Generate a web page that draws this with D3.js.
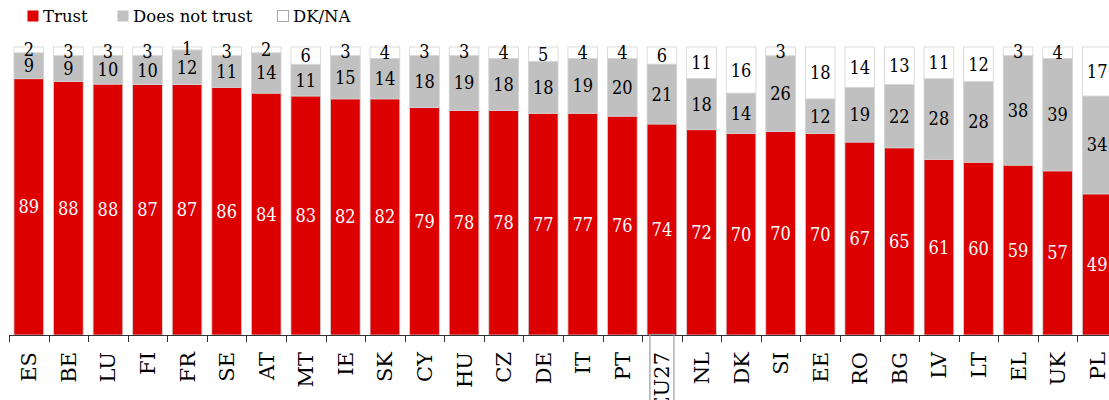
<!DOCTYPE html>
<html>
<head>
<meta charset="utf-8">
<script src="https://cdn.jsdelivr.net/npm/d3@7"></script>
<style>
  html, body { margin: 0; padding: 0; background: #fff; }
  svg { display: block; }
</style>
</head>
<body>
<svg id="chart" width="1109" height="400"></svg>
<script>
const categories = ["ES","BE","LU","FI","FR","SE","AT","MT","IE","SK","CY","HU","CZ","DE","IT","PT","EU27","NL","DK","SI","EE","RO","BG","LV","LT","EL","UK","PL"];
const trust    = [89,88,88,87,87,86,84,83,82,82,79,78,78,77,77,76,74,72,70,70,70,67,65,61,60,59,57,49];
const notTrust = [ 9, 9,10,10,12,11,14,11,15,14,18,19,18,18,19,20,21,18,14,26,12,19,22,28,28,38,39,34];
const dkna     = [ 2, 3, 3, 3, 1, 3, 2, 6, 3, 4, 3, 3, 4, 5, 4, 4, 6,11,16, 3,18,14,13,11,12, 3, 4,17];
const seriesNames = ["Trust","Does not trust","DK/NA"];
const highlight = "EU27";

const colors = ["#dd0000", "#c0c0c0", "#ffffff"];
const labelColors = ["#ffffff", "#000000", "#000000"];
const serif = "'DejaVu Serif', serif";

const svg = d3.select("#chart");
const x0 = 9, step = 39.57;
const yBottom = 335, yTop = 47;

const rows = categories.map((c, i) => ({cat: c, Trust: trust[i], "Does not trust": notTrust[i], "DK/NA": dkna[i]}));
const stack = d3.stack().keys(seriesNames).offset(d3.stackOffsetExpand)(rows);

const x = d3.scaleBand().domain(categories)
  .range([x0, x0 + step * categories.length])
  .paddingInner(0.25).paddingOuter(0.125);
const y = d3.scaleLinear().domain([0, 1]).range([yBottom, yTop]);

// bars
const g = svg.append("g");
stack.forEach((s, si) => {
  g.append("g").selectAll("rect").data(s).join("rect")
    .attr("x", d => x(d.data.cat))
    .attr("width", x.bandwidth())
    .attr("y", d => y(d[1]))
    .attr("height", d => y(d[0]) - y(d[1]))
    .attr("fill", colors[si])
    .attr("stroke", "#d3d3d3")
    .attr("stroke-width", 0.8);
});

// value labels
stack.forEach((s, si) => {
  g.append("g").selectAll("text").data(s).join("text")
    .attr("x", d => x(d.data.cat) + x.bandwidth() / 2)
    .attr("y", d => (y(d[0]) + y(d[1])) / 2)
    .attr("dy", "0.36em")
    .attr("text-anchor", "middle")
    .attr("font-family", serif)
    .attr("font-stretch", "condensed")
    .attr("font-size", 18)
    .attr("fill", labelColors[si])
    .text(d => d.data[s.key]);
});

// axis
const axis = svg.append("g");
axis.append("line")
  .attr("x1", x0).attr("x2", x0 + step * categories.length)
  .attr("y1", yBottom + 0.5).attr("y2", yBottom + 0.5)
  .attr("stroke", "#333").attr("stroke-width", 1);
const gap = (x.step() - x.bandwidth());
axis.selectAll("line.tick").data(categories).join("line")
  .attr("class", "tick")
  .attr("x1", d => Math.round(x(d) - gap / 2) + 0.5)
  .attr("x2", d => Math.round(x(d) - gap / 2) + 0.5)
  .attr("y1", yBottom).attr("y2", yBottom + 7)
  .attr("stroke", "#333").attr("stroke-width", 1);

// highlight box for EU27
const hx = x(highlight) + x.bandwidth() / 2;
axis.append("rect")
  .attr("x", hx - 12).attr("y", yBottom - 0.5)
  .attr("width", 24).attr("height", 80)
  .attr("fill", "none").attr("stroke", "#9a9a9a").attr("stroke-width", 1.2);

axis.selectAll("text.cat").data(categories).join("text")
  .attr("class", "cat")
  .attr("transform", d => `translate(${x(d) + x.bandwidth() / 2},352) rotate(-90)`)
  .attr("dy", "0.36em")
  .attr("text-anchor", "end")
  .attr("font-family", serif)
  .attr("font-size", 21)
  .attr("fill", "#000")
  .text(d => d);

// legend
const legendX = [27, 117, 277];
const leg = svg.append("g");
seriesNames.forEach((n, i) => {
  leg.append("rect")
    .attr("x", legendX[i] + 0.5).attr("y", 10.5)
    .attr("width", 11).attr("height", 11)
    .attr("fill", colors[i])
    .attr("stroke", i === 2 ? "#aaaaaa" : "none");
  leg.append("text")
    .attr("x", legendX[i] + 16).attr("y", 22)
    .attr("font-family", serif)
    .attr("font-size", 16.5)
    .attr("fill", "#000")
    .text(n);
});
</script>
</body>
</html>
